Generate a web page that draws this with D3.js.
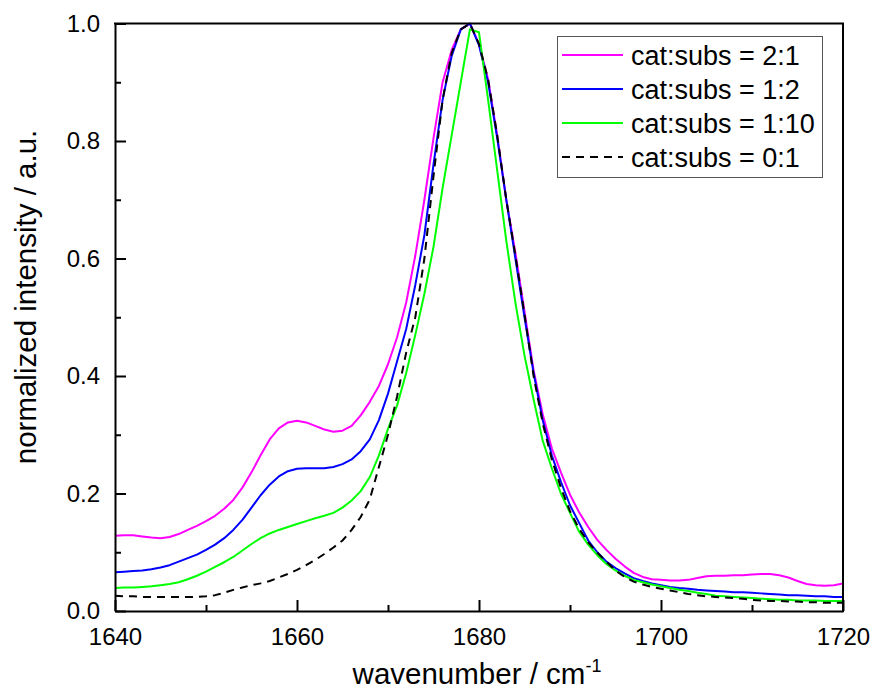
<!DOCTYPE html>
<html>
<head>
<meta charset="utf-8">
<script src="https://cdn.jsdelivr.net/npm/d3@7/dist/d3.min.js"></script>
<style>
  html, body { margin: 0; padding: 0; background: #fff; }
  svg { display: block; font-family: "Liberation Sans", Arial, sans-serif; }
</style>
</head>
<body>
<svg id="chart" width="872" height="697"></svg>
<script>
// Wavenumber grid (cm^-1), one sample per wavenumber
const wavenumbers = d3.range(1640, 1721);

// Normalized intensities for each catalyst:substrate ratio
const ratio2to1 = [
  0.128, 0.129, 0.129, 0.127, 0.125, 0.124, 0.126, 0.131, 0.138, 0.145,
  0.153, 0.162, 0.174, 0.189, 0.210, 0.236, 0.265, 0.292, 0.311, 0.321,
  0.324, 0.321, 0.315, 0.309, 0.305, 0.307, 0.315, 0.333, 0.356, 0.383,
  0.420, 0.466, 0.525, 0.605, 0.700, 0.805, 0.900, 0.955, 0.990, 1.000,
  0.965, 0.905, 0.810, 0.700, 0.610, 0.510, 0.410, 0.335, 0.277, 0.236,
  0.198, 0.168, 0.143, 0.121, 0.104, 0.089, 0.076, 0.065, 0.058, 0.054,
  0.053, 0.052, 0.052, 0.053, 0.056, 0.059, 0.060, 0.060, 0.061, 0.061,
  0.062, 0.063, 0.063, 0.061, 0.057, 0.051, 0.046, 0.044, 0.043, 0.044,
  0.047
];
const ratio1to2 = [
  0.066, 0.067, 0.068, 0.069, 0.071, 0.074, 0.078, 0.084, 0.090, 0.096,
  0.104, 0.113, 0.124, 0.138, 0.155, 0.176, 0.197, 0.215, 0.229, 0.238,
  0.242, 0.243, 0.243, 0.243, 0.245, 0.250, 0.258, 0.272, 0.292, 0.325,
  0.370, 0.425, 0.480, 0.555, 0.640, 0.760, 0.870, 0.945, 0.990, 1.000,
  0.963, 0.900, 0.805, 0.700, 0.600, 0.500, 0.405, 0.325, 0.265, 0.220,
  0.180, 0.150, 0.120, 0.100, 0.084, 0.073, 0.064, 0.056, 0.051, 0.047,
  0.044, 0.041, 0.039, 0.038, 0.036, 0.035, 0.034, 0.033, 0.032, 0.032,
  0.031, 0.030, 0.029, 0.028, 0.027, 0.027, 0.026, 0.025, 0.025, 0.024,
  0.024
];
const ratio1to10 = [
  0.039, 0.040, 0.040, 0.041, 0.042, 0.044, 0.046, 0.049, 0.054, 0.060,
  0.067, 0.075, 0.083, 0.092, 0.103, 0.114, 0.124, 0.132, 0.138, 0.143,
  0.148, 0.153, 0.158, 0.162, 0.167, 0.176, 0.188, 0.204, 0.228, 0.265,
  0.310, 0.350, 0.405, 0.470, 0.540, 0.620, 0.720, 0.810, 0.900, 0.990,
  0.985, 0.870, 0.750, 0.630, 0.525, 0.435, 0.360, 0.290, 0.243, 0.200,
  0.167, 0.135, 0.113, 0.095, 0.080, 0.069, 0.060, 0.053, 0.049, 0.045,
  0.042, 0.039, 0.036, 0.034, 0.031, 0.029, 0.026, 0.025, 0.024, 0.023,
  0.022, 0.021, 0.020, 0.019, 0.019, 0.018, 0.018, 0.018, 0.017, 0.017,
  0.017
];
const ratio0to1 = [
  0.026, 0.025, 0.025, 0.024, 0.024, 0.024, 0.024, 0.024, 0.024, 0.024,
  0.025, 0.027, 0.031, 0.036, 0.040, 0.044, 0.047, 0.051, 0.057, 0.063,
  0.070, 0.078, 0.087, 0.097, 0.108, 0.120, 0.138, 0.160, 0.190, 0.245,
  0.300, 0.365, 0.440, 0.500, 0.600, 0.740, 0.870, 0.950, 0.990, 1.000,
  0.965, 0.905, 0.810, 0.700, 0.605, 0.505, 0.400, 0.320, 0.258, 0.210,
  0.170, 0.140, 0.117, 0.099, 0.084, 0.069, 0.058, 0.050, 0.045, 0.041,
  0.038, 0.035, 0.032, 0.029, 0.027, 0.025, 0.024, 0.023, 0.022, 0.021,
  0.019, 0.018, 0.017, 0.017, 0.016, 0.016, 0.015, 0.015, 0.014, 0.014,
  0.014
];

const seriesLabels = ["cat:subs = 2:1", "cat:subs = 1:2", "cat:subs = 1:10", "cat:subs = 0:1"];
const seriesColors = ["#ff00ff", "#0000ff", "#00ff00", "#000000"];
const seriesDashes = [null, null, null, "8,6"];
const seriesValues = [ratio2to1, ratio1to2, ratio1to10, ratio0to1];

const xTickValues = [1640, 1660, 1680, 1700, 1720];
const yTickValues = [0.0, 0.2, 0.4, 0.6, 0.8, 1.0];
const xTitle = "wavenumber / cm";
const xTitleSup = "-1";
const yTitle = "normalized intensity / a.u.";

const svg = d3.select("#chart");
const plot = { left: 115, right: 843, top: 23.5, bottom: 611 };

const x = d3.scaleLinear().domain([1640, 1720]).range([plot.left, plot.right]);
const y = d3.scaleLinear().domain([0, 1]).range([plot.bottom, plot.top]);

svg.append("defs").append("clipPath").attr("id", "plot-clip")
  .append("rect")
  .attr("x", plot.left).attr("y", plot.top - 2)
  .attr("width", plot.right - plot.left).attr("height", plot.bottom - plot.top + 2);

// Spectra
const line = d3.line()
  .x((d, i) => x(wavenumbers[i]))
  .y(d => y(d));

const curves = svg.append("g").attr("clip-path", "url(#plot-clip)");
seriesValues.forEach((vals, k) => {
  curves.append("path")
    .datum(vals)
    .attr("d", line)
    .attr("fill", "none")
    .attr("stroke", seriesColors[k])
    .attr("stroke-width", 2)
    .attr("stroke-linejoin", "round")
    .attr("stroke-dasharray", seriesDashes[k]);
});

// Axes: major ticks with labels, minor ticks in between, all pointing inward
const xMinor = d3.range(1650, 1720, 20);
const yMinor = [0.1, 0.3, 0.5, 0.7, 0.9];

const xAxis = d3.axisBottom(x).tickValues(xTickValues).tickFormat(d3.format("d"))
  .tickSizeInner(-11).tickSizeOuter(0).tickPadding(17);
const gx = svg.append("g").attr("transform", `translate(0,${plot.bottom})`).call(xAxis);

const xAxisMinor = d3.axisBottom(x).tickValues(xMinor).tickFormat("").tickSizeInner(-6).tickSizeOuter(0);
svg.append("g").attr("transform", `translate(0,${plot.bottom})`).call(xAxisMinor)
  .call(g => g.select(".domain").remove());

const yAxis = d3.axisLeft(y).tickValues(yTickValues).tickFormat(d3.format(".1f"))
  .tickSizeInner(-11).tickSizeOuter(0).tickPadding(15);
const gy = svg.append("g").attr("transform", `translate(${plot.left},0)`).call(yAxis);

const yAxisMinor = d3.axisLeft(y).tickValues(yMinor).tickFormat("").tickSizeInner(-6).tickSizeOuter(0);
svg.append("g").attr("transform", `translate(${plot.left},0)`).call(yAxisMinor)
  .call(g => g.select(".domain").remove());

svg.selectAll(".tick line").attr("stroke", "#000").attr("stroke-width", 2);
svg.selectAll(".domain").attr("stroke", "#000").attr("stroke-width", 2);
svg.selectAll(".tick text").attr("fill", "#000").style("font-size", "24px")
  .style("font-family", "'Liberation Sans', Arial, sans-serif");
gx.selectAll(".tick text").attr("dy", "0.71em");

// Top and right frame lines
svg.append("line")
  .attr("x1", plot.left - 1).attr("x2", plot.right + 1)
  .attr("y1", plot.top).attr("y2", plot.top)
  .attr("stroke", "#000").attr("stroke-width", 2);
svg.append("line")
  .attr("x1", plot.right).attr("x2", plot.right)
  .attr("y1", plot.top).attr("y2", plot.bottom + 1)
  .attr("stroke", "#000").attr("stroke-width", 2);

// Axis titles
const xt = svg.append("text")
  .attr("x", 477)
  .attr("y", 684)
  .attr("text-anchor", "middle")
  .style("font-size", "29.5px")
  .attr("fill", "#000");
xt.append("tspan").text(xTitle);
xt.append("tspan").attr("dy", -12).style("font-size", "18px").text(xTitleSup);

svg.append("text")
  .attr("transform", `translate(36,${297}) rotate(-90)`)
  .attr("text-anchor", "middle")
  .style("font-size", "29.5px")
  .attr("fill", "#000")
  .text(yTitle);

// Legend
const legend = svg.append("g");
legend.append("rect")
  .attr("x", 557.5).attr("y", 36.5)
  .attr("width", 265).attr("height", 141)
  .attr("fill", "#fff")
  .attr("stroke", "#555").attr("stroke-width", 1);

const rowY = d3.scalePoint().domain(seriesLabels).range([55, 157]);
seriesLabels.forEach((lab, k) => {
  const ry = rowY(lab);
  legend.append("line")
    .attr("x1", 562).attr("x2", 623)
    .attr("y1", ry).attr("y2", ry)
    .attr("stroke", seriesColors[k])
    .attr("stroke-width", 2)
    .attr("stroke-dasharray", seriesDashes[k]);
  legend.append("text")
    .attr("x", 631).attr("y", ry)
    .attr("dy", "0.36em")
    .style("font-size", "27px")
    .attr("fill", "#000")
    .text(lab);
});
</script>
</body>
</html>
